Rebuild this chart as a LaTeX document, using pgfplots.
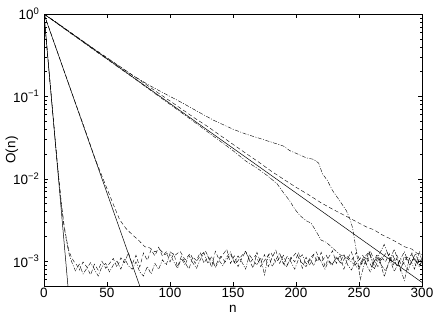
\documentclass[border=0pt]{standalone}
\usepackage{fontspec}
\setmainfont{Liberation Sans}
\usepackage{pgfplots}
\pgfplotsset{compat=1.18}
\begin{document}
\begin{tikzpicture}
\begin{axis}[
  scale only axis, width=378pt, height=272pt,
  xmin=0, xmax=300, ymode=log, ymin=5e-4, ymax=1,
  xtick={0,50,100,150,200,250,300},
  xticklabels={0,50,100,150,200,250,300},
  ytick={1e-3,1e-2,1e-1,1},
  yticklabels={10\textsuperscript{−3},10\textsuperscript{−2},10\textsuperscript{−1},10\textsuperscript{0}},
  minor ytick={6e-4,7e-4,8e-4,9e-4,2e-3,3e-3,4e-3,5e-3,6e-3,7e-3,8e-3,9e-3,2e-2,3e-2,4e-2,5e-2,6e-2,7e-2,8e-2,9e-2,0.2,0.3,0.4,0.5,0.6,0.7,0.8,0.9},
  tick align=inside, major tick length=4pt, minor tick length=2.5pt,
  tick style={black, line width=0.4pt},
  axis line style={line width=0.6pt},
  tick label style={font=\fontsize{13.5}{15}\selectfont},
  label style={font=\fontsize{13.5}{15}\selectfont},
  xlabel={n}, ylabel={O(n)},
  xlabel style={at={(axis description cs:0.5,-0.096)}, anchor=base},
  ylabel style={at={(axis description cs:-0.085,0.5)}, anchor=center},
  yticklabel style={xshift=-1pt},
  xticklabel style={yshift=1pt},
  every axis plot/.append style={black, line width=0.4pt},
]
% solid reference exponentials
\addplot[line width=0.5pt] coordinates {(0,1) (20,3.35e-4)};
\addplot[line width=0.5pt] coordinates {(0,1) (80,3.35e-4)};
\addplot[line width=0.5pt] coordinates {(0,1) (300,5.53e-4)};
% A dashed (fast decay + floor)
\addplot[dash pattern=on 4pt off 2.5pt] coordinates {
(0,1) (2,0.45) (4,0.2) (6,0.092) (8,0.042) (10,0.019) (12,0.0092) (14,0.0047) (16,0.0027) (18,0.0018) (20,0.0013) (22,0.0011)
(24,0.00098) (26,0.0009) (28,0.00078) (31,0.00098) (34,0.00085) (37,0.00068) (40,0.00092) (43,0.00078) (46,0.001) (49,0.00082) (52,0.00094) (55,0.00108) (58,0.00084) (61,0.0011) (64,0.00096) (67,0.00128) (70,0.00092) (73,0.00118) (76,0.00085) (79,0.00126) (82,0.00102) (85,0.00138) (88,0.00116) (91,0.00148) (94,0.00115) (97,0.0013) (100,0.00098) (103,0.00124) (106,0.00085) (109,0.00115) (112,0.00096) (115,0.0008) (118,0.00112) (121,0.00102) (124,0.00128) (127,0.00094) (130,0.00116) (133,0.00084) (136,0.00132) (139,0.00104) (142,0.0012) (145,0.0014) (148,0.00094) (151,0.00116) (154,0.00086) (157,0.00108) (160,0.00132) (163,0.00102) (166,0.00082) (169,0.00128) (172,0.00096) (175,0.0012) (178,0.00086) (181,0.0011) (184,0.00136) (187,0.00094) (190,0.00118) (193,0.0009) (196,0.00112) (199,0.00098) (202,0.00128) (205,0.00082) (208,0.00112) (211,0.00088) (214,0.0012) (217,0.00098) (220,0.00128) (223,0.00086) (226,0.00112) (229,0.00134) (232,0.00094) (235,0.0012) (238,0.0008) (241,0.00108) (244,0.0013) (247,0.0009) (250,0.00104) (253,0.00118) (256,0.00092) (259,0.00134) (262,0.00102) (265,0.00086) (268,0.00112) (271,0.00098) (274,0.00124) (277,0.0009) (280,0.00108) (283,0.00076) (286,0.00116) (289,0.00098) (292,0.00126) (295,0.00088) (298,0.00108) (300,0.00102)};
% A2 dash-dot (fast decay + floor)
\addplot[dash pattern=on 4pt off 1.5pt on 1pt off 1.5pt] coordinates {
(0,1) (2,0.45) (4,0.2) (6,0.092) (8,0.042) (10,0.019) (12,0.0092) (14,0.0046) (16,0.0026) (18,0.0017) (20,0.0012) (22,0.00098)
(25,0.00076) (28,0.00092) (31,0.0007) (34,0.00082) (37,0.00096) (40,0.0008) (43,0.00066) (46,0.00086) (49,0.00094) (52,0.00074) (55,0.0009) (58,0.001) (61,0.0008) (64,0.00108) (67,0.00088) (70,0.0008) (73,0.00098) (76,0.00074) (79,0.00066) (82,0.00086) (85,0.0007) (88,0.00094) (91,0.0008) (94,0.00104) (97,0.0009) (100,0.00124) (103,0.00098) (106,0.00082) (109,0.00108) (112,0.0009) (115,0.00118) (118,0.00096) (121,0.00082) (124,0.00104) (127,0.00126) (130,0.00094) (133,0.00114) (136,0.00084) (139,0.00102) (142,0.00088) (145,0.00112) (148,0.0013) (151,0.00096) (154,0.00116) (157,0.00098) (160,0.0008) (163,0.0012) (166,0.00102) (169,0.0009) (172,0.0011) (175,0.00068) (178,0.0012) (181,0.00086) (184,0.00104) (187,0.00126) (190,0.00092) (193,0.00114) (196,0.00098) (199,0.0008) (202,0.00106) (205,0.0012) (208,0.00092) (211,0.00108) (214,0.00088) (217,0.00116) (220,0.00098) (223,0.0008) (226,0.00102) (229,0.0009) (232,0.00114) (235,0.00096) (238,0.00122) (241,0.0009) (244,0.00078) (247,0.001) (250,0.00084) (253,0.00108) (256,0.0009) (259,0.00074) (262,0.00098) (265,0.00118) (268,0.00088) (271,0.00076) (274,0.00098) (277,0.00118) (280,0.00086) (283,0.00106) (286,0.00092) (289,0.00078) (292,0.00102) (295,0.00124) (298,0.0009) (300,0.001)};
% B dashed (medium decay + floor)
\addplot[dash pattern=on 4pt off 2.5pt] coordinates {
(0,1) (5,0.61) (10,0.37) (15,0.224) (20,0.136) (25,0.083) (30,0.051) (35,0.031) (40,0.0185) (45,0.0118) (50,0.0076) (55,0.0049) (60,0.0032) (65,0.0025) (70,0.0021) (75,0.0018) (80,0.0015) (84,0.00145) (88,0.0013) (92,0.00138) (96,0.0012) (100,0.0013)
(104,0.00118) (108,0.00132) (112,0.00104) (116,0.00124) (120,0.00094) (124,0.00116) (128,0.00134) (132,0.00102) (136,0.00088) (140,0.00114) (144,0.00098) (148,0.00122) (152,0.00092) (156,0.00112) (160,0.00132) (164,0.00098) (168,0.00118) (172,0.00086) (176,0.00108) (180,0.00128) (184,0.00096) (188,0.00116) (192,0.00084) (196,0.00106) (200,0.00126) (204,0.00098) (208,0.00086) (212,0.00112) (216,0.0013) (220,0.00098) (224,0.00118) (228,0.00088) (232,0.0011) (236,0.00094) (240,0.00116) (244,0.00102) (248,0.00128) (252,0.00092) (256,0.00114) (260,0.00086) (264,0.00118) (268,0.00104) (272,0.0013) (276,0.00096) (280,0.00118) (284,0.00088) (288,0.0011) (292,0.0012) (296,0.00094) (300,0.00106)};
% D1 dashed (slow decay + floor)
\addplot[dash pattern=on 4pt off 2.5pt] coordinates {
(0,1) (10,0.79) (20,0.615) (30,0.48) (40,0.375) (50,0.295) (60,0.232) (70,0.182) (80,0.143) (90,0.112) (100,0.088) (110,0.069) (120,0.054) (130,0.043) (140,0.0335) (150,0.0262) (160,0.0205) (170,0.0161) (180,0.0125) (190,0.0099) (200,0.0079) (210,0.0064) (220,0.0051) (230,0.0042) (240,0.0035) (250,0.0029) (256,0.0026) (262,0.0024) (268,0.0021) (274,0.0019) (280,0.0017) (286,0.0015) (292,0.0014) (296,0.00125) (300,0.0012)};
% D2 dash-dot (upper bump)
\addplot[dash pattern=on 4pt off 1.5pt on 1pt off 1.5pt] coordinates {
(0,1) (10,0.785) (20,0.61) (30,0.478) (40,0.372) (50,0.292) (60,0.23) (70,0.182) (84,0.135) (100,0.1) (110,0.083) (124,0.063) (135,0.051) (150,0.04) (160,0.035) (171,0.031) (180,0.028) (190,0.025) (195,0.022) (203,0.0195) (208,0.018) (214,0.0172) (218,0.0155) (221,0.0115) (225,0.0095) (229,0.0072) (234,0.0056) (240,0.0041) (243,0.0032) (245,0.0025) (248,0.0013) (251,0.0006) (254,0.0009) (258,0.0013) (262,0.0008) (266,0.0011) (270,0.00065) (274,0.001) (278,0.0014) (282,0.0009) (286,0.00058) (290,0.0011) (294,0.0008) (298,0.0013) (300,0.001)};
% D3 dash-dot (lower)
\addplot[dash pattern=on 4pt off 1.5pt on 1pt off 1.5pt] coordinates {
(0,1) (10,0.775) (20,0.6) (30,0.468) (40,0.362) (50,0.283) (60,0.22) (70,0.172) (80,0.133) (90,0.103) (100,0.08) (110,0.062) (120,0.048) (130,0.037) (140,0.0285) (150,0.022) (160,0.0165) (169,0.0135) (177,0.011) (185,0.0087) (190,0.0068) (195,0.0054) (199,0.0043) (203,0.0036) (208,0.0031) (212,0.0029) (216,0.0023) (220,0.0018) (224,0.0017) (230,0.0014) (235,0.0012) (240,0.0011) (245,0.00095) (250,0.0008) (254,0.0011) (258,0.0013) (262,0.0009) (266,0.0012) (270,0.0016) (274,0.0011) (278,0.00075) (282,0.001) (286,0.0013) (290,0.0009) (294,0.0011) (298,0.00085) (300,0.001)};
\end{axis}
\pgfresetboundingbox
\path ([shift={(-44pt,-30pt)}]current axis.south west) rectangle ([shift={(14pt,14pt)}]current axis.north east);
\end{tikzpicture}
\end{document}
